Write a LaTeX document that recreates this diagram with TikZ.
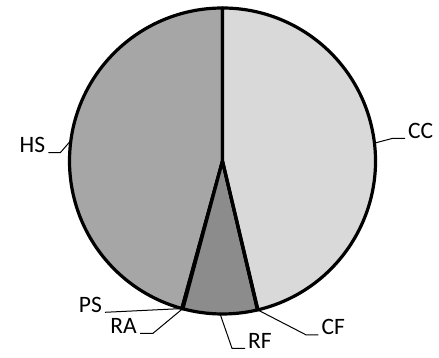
\documentclass[tikz,border=0pt]{standalone}
\usepackage{fontspec}
\setmainfont{Carlito}
\usepackage{xcolor}
\definecolor{ccfill}{HTML}{D9D9D9}
\definecolor{hsfill}{HTML}{A6A6A6}
\definecolor{rffill}{HTML}{8C8C8C}
\tikzset{
  slice/.style={draw=black,line width=3.2pt,line join=round},
  leader/.style={draw=black,line width=1pt},
  lbl/.style={inner sep=3pt,font=\fontsize{23.5}{28}\selectfont}
}

\begin{document}
\begin{tikzpicture}[x=1pt,y=1pt]
\useasboundingbox (0,0) rectangle (439,358);
\coordinate (O) at (222.5,197);

\filldraw[slice,fill=hsfill] (O) -- ([shift={(90:153)}]O) arc[start angle=90,end angle=254.6,radius=153] -- cycle;
\filldraw[slice,fill=hsfill] (O) -- ([shift={(254.6:153)}]O) arc[start angle=254.6,end angle=255,radius=153] -- cycle;
\filldraw[slice,fill=rffill] (O) -- ([shift={(255:153)}]O) arc[start angle=255,end angle=283.2,radius=153] -- cycle;
\filldraw[slice,fill=ccfill] (O) -- ([shift={(283.4:153)}]O) arc[start angle=283.4,end angle=450,radius=153] -- cycle;
\draw[slice] (O) -- ([shift={(283.3:153)}]O);

\coordinate (pCC) at ([shift={(6.7:153)}]O);
\coordinate (pCF) at ([shift={(283.3:153)}]O);
\coordinate (pRF) at ([shift={(269.1:153)}]O);
\coordinate (pRA) at ([shift={(254.9:153)}]O);
\coordinate (pPS) at ([shift={(254.7:153)}]O);
\coordinate (pHS) at ([shift={(172.3:153)}]O);

\node[lbl,anchor=base west] (CC) at (405,219.5) {CC};
\node[lbl,anchor=base west] (CF) at (318.3,23) {CF};
\node[lbl,anchor=base west] (RF) at (245,9.7) {RF};
\node[lbl,anchor=base east] (RA) at (140,24.7) {RA};
\node[lbl,anchor=base east] (PS) at (105,45.7) {PS};
\node[lbl,anchor=base east] (HS) at (48.3,205.3) {HS};

\draw[leader] (pCC) -- ([xshift=-13pt]CC.base west) -- (CC.base west);
\draw[leader] (pCF) -- ([xshift=-12pt]CF.base west) -- (CF.base west);
\draw[leader] (pRF) -- ([xshift=-13pt]RF.base west) -- (RF.base west);
\draw[leader] (pRA) -- ([xshift=13pt]RA.base east) -- (RA.base east);
\draw[leader] (pPS) -- (PS.base east);
\draw[leader] (pHS) -- ([xshift=12pt]HS.base east) -- (HS.base east);
\end{tikzpicture}
\end{document}
